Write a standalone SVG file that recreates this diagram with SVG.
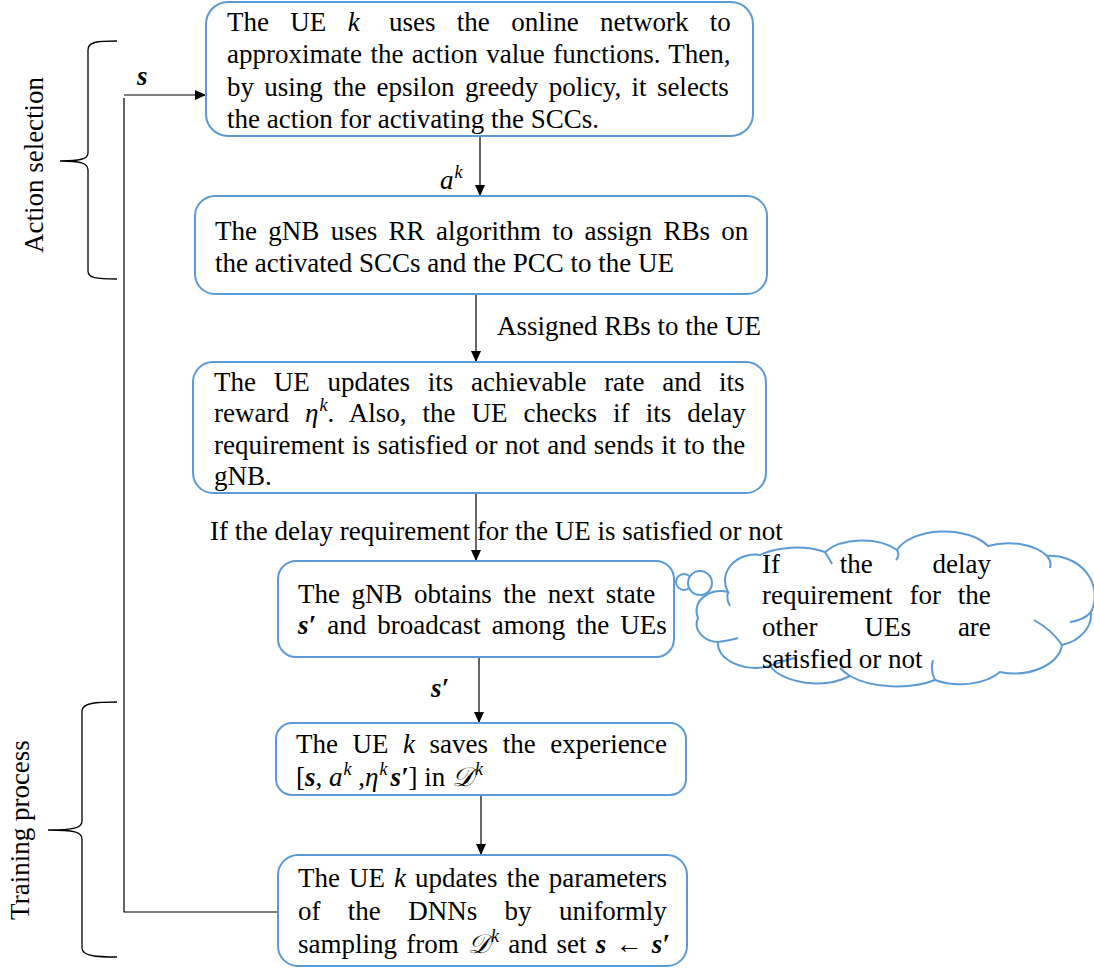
<svg xmlns="http://www.w3.org/2000/svg" width="1094" height="968" viewBox="0 0 1094 968">
  <style>
    .box { fill: #ffffff; stroke: #5B9BD5; stroke-width: 2; }
    .t { font-family: "Liberation Serif", "Times New Roman", serif; font-size: 27px; fill: #000; }
    .i { font-style: italic; }
    .b { font-weight: bold; font-style: italic; }
    .sup { font-size: 18px; font-style: italic; }
    .wire { fill: none; stroke: #000; stroke-width: 1.2; }
    .brace { fill: none; stroke: #000; stroke-width: 1.3; }
    .cloud { fill: #ffffff; stroke: #5B9BD5; stroke-width: 2; }
    .hint { fill: none; stroke: #5B9BD5; stroke-width: 2; }
  </style>
  <defs>
    <marker id="arrow" viewBox="0 0 11 10" refX="11" refY="5" markerWidth="11" markerHeight="10" markerUnits="userSpaceOnUse" orient="auto">
      <path d="M0,0 L11,5 L0,10 Z" fill="#000"/>
    </marker>
  </defs>

  <!-- side braces and phase labels -->
  <g id="action-selection">
    <path class="brace" d="M117,41 C96,41 88,42 88,50 V153 C88,159 80,161 60,161 C80,161 88,163 88,170 V271 C88,278 96,279 117,279"/>
    <text class="t" transform="translate(43,165) rotate(-90)" text-anchor="middle">Action selection</text>
  </g>
  <g id="training-process">
    <path class="brace" d="M117,702 C96,702 82,703 82,711 V821 C82,828 74,830 48,830 C74,830 82,832 82,839 V948 C82,956 96,957 117,957"/>
    <text class="t" transform="translate(29,830) rotate(-90)" text-anchor="middle">Training process</text>
  </g>

  <!-- connectors -->
  <g id="connectors">
    <path class="wire" d="M278,912 H124 V98"/>
    <path class="wire" d="M124,95 H206" marker-end="url(#arrow)"/>
    <path class="wire" d="M480,136 V196" marker-end="url(#arrow)"/>
    <path class="wire" d="M476,294 V362" marker-end="url(#arrow)"/>
    <path class="wire" d="M476,493 V561" marker-end="url(#arrow)"/>
    <path class="wire" d="M479,657 V723" marker-end="url(#arrow)"/>
    <path class="wire" d="M481,795 V855" marker-end="url(#arrow)"/>
    <text class="t b" x="137" y="85">s</text>
    <text class="t i" x="440" y="189">a<tspan class="sup" dx="1" dy="-11">k</tspan></text>
    <text class="t" x="497" y="335">Assigned RBs to the UE</text>
    <text class="t" x="210" y="540">If the delay requirement for the UE is satisfied or not</text>
    <text class="t b" x="431" y="697" font-size="29">s′</text>
  </g>

  <g id="select-action">
    <rect class="box" x="206" y="2" width="547" height="134" rx="22"/>
    <text class="t" x="227" y="31" word-spacing="14.6">The UE <tspan class="i">k</tspan> <tspan dx="8">uses the online network to</tspan></text>
    <text class="t" x="227" y="63" word-spacing="1.7">approximate the action value functions. Then,</text>
    <text class="t" x="227" y="96" word-spacing="3.6">by using the epsilon greedy policy, it selects</text>
    <text class="t" x="227" y="128">the action for activating the SCCs.</text>
  </g>

  <g id="assign-rbs">
    <rect class="box" x="195" y="196" width="572" height="98" rx="20"/>
    <text class="t" x="215" y="240" word-spacing="4.6">The gNB uses RR algorithm to assign RBs on</text>
    <text class="t" x="215" y="272">the activated SCCs and the PCC to the UE</text>
  </g>

  <g id="update-reward">
    <rect class="box" x="193" y="362" width="573" height="131" rx="20"/>
    <text class="t" x="214" y="391" word-spacing="11">The UE updates its achievable rate and its</text>
    <text class="t" x="214" y="422" word-spacing="9.3">reward <tspan class="i">η</tspan><tspan class="sup" dx="1" dy="-11">k</tspan><tspan dy="11">. Also, the UE checks if its delay</tspan></text>
    <text class="t" x="214" y="454" word-spacing="0.8">requirement is satisfied or not and sends it to the</text>
    <text class="t" x="214" y="485">gNB.</text>
  </g>

  <g id="next-state">
    <rect class="box" x="278" y="561" width="396" height="96" rx="18"/>
    <text class="t" x="298" y="603" font-size="26" word-spacing="4.7">The gNB obtains the next state</text>
    <text class="t" x="298" y="634" font-size="26" word-spacing="4.3"><tspan class="b">s′</tspan> and broadcast among the UEs</text>
  </g>

  <g id="other-ues">
    <circle class="cloud" cx="684" cy="582" r="8"/>
    <circle class="cloud" cx="700" cy="583" r="12"/>
    <path class="cloud" d="M728,592 A30,26 0 0 1 760,555 A55,30 0 0 1 825,552 A45,26 0 0 1 897,550 A50,28 0 0 1 988,546 A45,26 0 0 1 1047,556 A44,40 0 0 1 1091,612 A40,32 0 0 1 1062,645 A48,32 0 0 1 1000,672 A48,28 0 0 1 935,680 A60,28 0 0 1 850,676 A50,28 0 0 1 770,666 A38,24 0 0 1 718,642 A22,18 0 0 1 698,618 A24,20 0 0 1 728,592 Z"/>
    <path class="hint" d="M728,592 Q726,600 730,606 M825,552 Q830,560 832,564 M897,550 Q900,556 896,560 M1047,556 Q1052,562 1050,568 M1091,612 Q1084,620 1070,622 M1062,645 Q1052,630 1034,620 M935,680 Q930,670 933,660 M850,676 Q844,672 840,668 M770,666 Q785,660 795,658 M718,642 Q732,640 738,638"/>
    <text class="t" x="762" y="573" word-spacing="53">If the delay</text>
    <text class="t" x="762" y="604" word-spacing="10.2">requirement for the</text>
    <text class="t" x="762" y="636" word-spacing="40.2">other UEs are</text>
    <text class="t" x="762" y="668">satisfied or not</text>
  </g>

  <g id="save-experience">
    <rect class="box" x="276" y="723" width="410" height="72" rx="16"/>
    <text class="t" x="296" y="753" word-spacing="7.8">The UE <tspan class="i">k</tspan> saves the experience</text>
    <text class="t" x="296" y="786">[<tspan class="b">s</tspan>, <tspan class="i">a</tspan><tspan class="sup" dx="1" dy="-11">k</tspan><tspan dy="11"> ,</tspan><tspan class="i">η</tspan><tspan class="sup" dx="1" dy="-11">k</tspan><tspan class="b" dx="3" dy="11">s′</tspan>] in <tspan class="i">𝒟</tspan><tspan class="sup" dx="1" dy="-11">k</tspan></text>
  </g>

  <g id="update-dnn">
    <rect class="box" x="278" y="855" width="409" height="111" rx="20"/>
    <text class="t" x="298" y="887" word-spacing="2.3">The UE <tspan class="i">k</tspan> updates the parameters</text>
    <text class="t" x="298" y="920" word-spacing="20.6">of the DNNs by uniformly</text>
    <text class="t" x="298" y="953" word-spacing="2.5">sampling from <tspan class="i">𝒟</tspan><tspan class="sup" dx="1" dy="-11">k</tspan><tspan dy="11"> and set </tspan><tspan class="b">s</tspan> ← <tspan class="b">s′</tspan></text>
  </g>
</svg>
